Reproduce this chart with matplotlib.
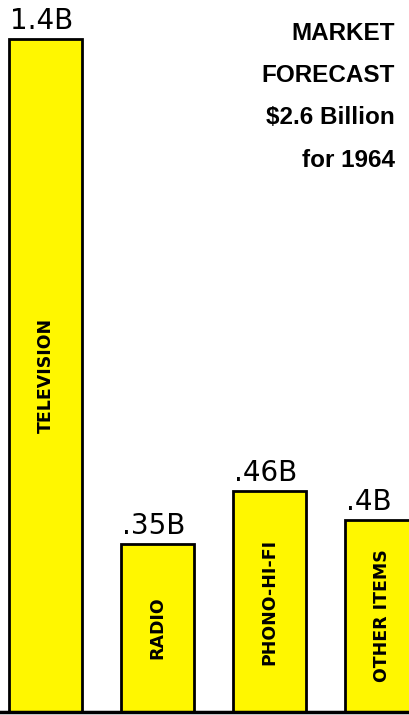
import numpy as np
import matplotlib.pyplot as plt

# Market forecast 1964, billions of dollars
categories = ["TELEVISION", "RADIO", "PHONO-HI-FI", "OTHER ITEMS"]
values = [1.4, 0.35, 0.46, 0.4]
value_labels = ["1.4B", ".35B", ".46B", ".4B"]
title_lines = ["MARKET", "FORECAST", "$2.6 Billion", "for 1964"]

fig = plt.figure(figsize=(4.09, 7.15), dpi=100)
ax = fig.add_axes([0, 3 / 715, 1, 712 / 715])

x = np.arange(len(categories))
bars = ax.bar(x, values, width=0.65, color="#FFF700", edgecolor="black",
              linewidth=2, zorder=2)

ax.set_xlim(-0.406, 3.245)
ax.set_ylim(0, 712 / 480.7)
ax.axhline(0, color="black", linewidth=2.5, zorder=3, clip_on=False)

# value labels above each bar, left aligned with the bar
for b, lab in zip(bars, value_labels):
    ax.annotate(lab, (b.get_x() + 0.01, b.get_height()), xytext=(0, 3),
                textcoords="offset points", ha="left", va="bottom",
                fontsize=20, family="DejaVu Sans")

# category names rotated inside the bars
for b, name in zip(bars, categories):
    ax.text(b.get_x() + b.get_width() / 2, b.get_height() * 0.5, name,
            rotation=90, ha="center", va="center", fontsize=12.5,
            fontweight="bold", family="DejaVu Sans")

# forecast note, top right
for i, line in enumerate(title_lines):
    fig.text(395 / 409, 1 - (33 + i * 42.5) / 715, line, ha="right",
             va="center", fontsize=17.5, fontweight="bold",
             family=["Liberation Sans", "DejaVu Sans"])

ax.axis("off")
fig.savefig("out.png", dpi=100)
